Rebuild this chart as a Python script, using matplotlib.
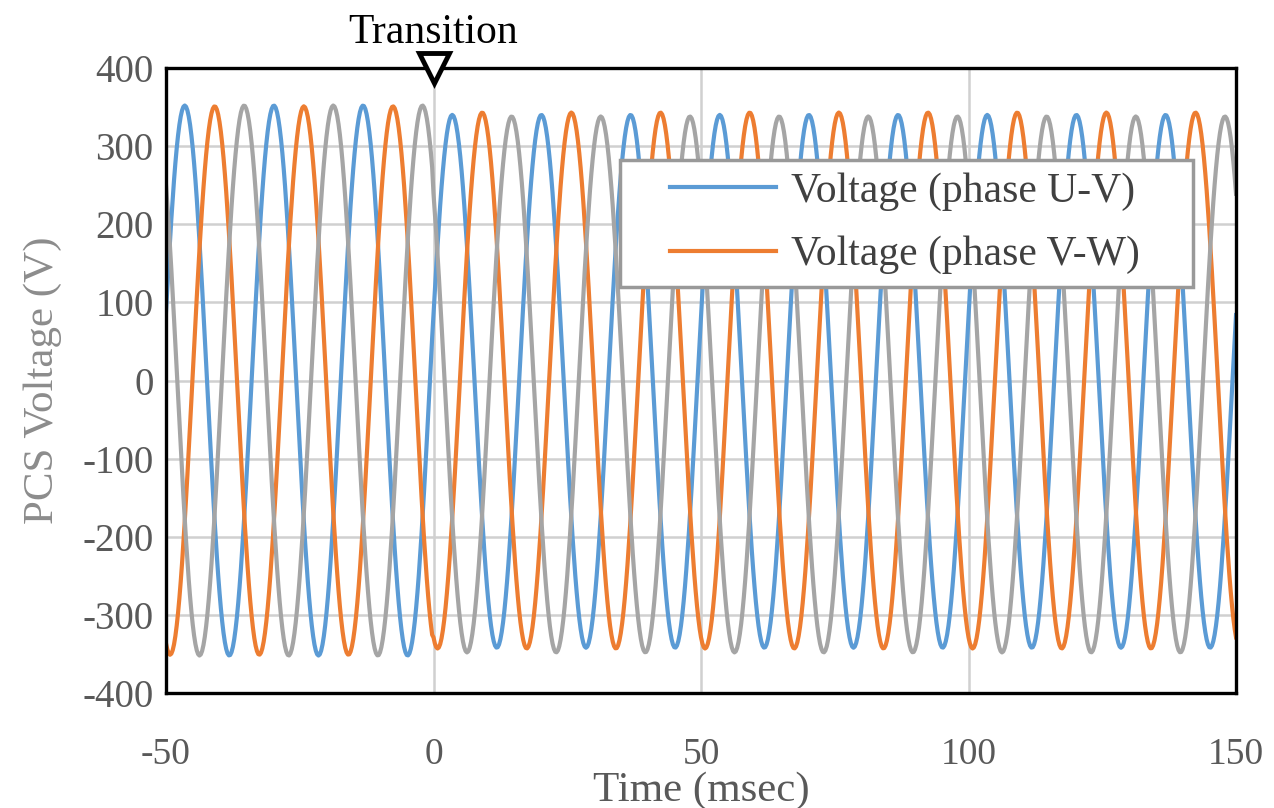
"""
PCS line-to-line voltage around the transition (three phases, 60 Hz).
"""

import numpy as np
import matplotlib.pyplot as plt
from matplotlib.legend_handler import HandlerLine2D

LABEL_FONT_SIZE = 31
TICK_FONT_SIZE = 27
LEGEND_FONT_SIZE = 30

plt.rcParams['font.family'] = ['Liberation Serif', 'DejaVu Serif']
plt.rcParams['axes.unicode_minus'] = False

# Trace settings
time_range_ms = [-50, 150]
line_freq_hz = 60
sample_ms = 0.25
transition_ms = 0

phase_labels = ['Voltage (phase U-V)', 'Voltage (phase V-W)', '_nolegend_']
phase_colors = ['#5B9BD5', '#ED7D31', '#A5A5A5']
# time of the first positive peak of each phase (msec)
first_peak_ms = [-46.5, -40.9, -35.4]
# peak voltage before / after the transition (V)
amp_before = [352, 351, 352]
amp_after = [341, 343, 343]
offset_after = [-1, 0, -5]

x_ticks = [-50, 0, 50, 100, 150]
y_ticks = [-400, -300, -200, -100, 0, 100, 200, 300, 400]


def phase_trace(t, peak, a_before, a_after, off_after):
    period = 1000.0 / line_freq_hz
    wave = np.cos(2 * np.pi * (t - peak) / period)
    return np.where(t < transition_ms, a_before * wave, a_after * wave + off_after)


def main():
    fig = plt.figure(figsize=(12.74, 8.08), dpi=100)
    ax = fig.add_axes([0.1303, 0.1423, 0.8399, 0.7735])

    t = np.arange(time_range_ms[0], time_range_ms[1] + sample_ms, sample_ms)
    for label, color, peak, a0, a1, off in zip(phase_labels, phase_colors, first_peak_ms,
                                                amp_before, amp_after, offset_after):
        ax.plot(t, phase_trace(t, peak, a0, a1, off), color=color, linewidth=3.0,
                label=label, zorder=3)

    ax.set_xlim(time_range_ms)
    ax.set_ylim(y_ticks[0], y_ticks[-1])
    ax.set_xticks(x_ticks)
    ax.set_yticks(y_ticks)

    # Grid lines like the spreadsheet chart
    ax.grid(True, color='#D0D0D0', linewidth=1.8, zorder=0)
    ax.set_axisbelow(True)

    for spine in ax.spines.values():
        spine.set_color('black')
        spine.set_linewidth(2.4)
        spine.set_zorder(6)

    ax.tick_params(axis='both', length=0, colors='#595959')
    ax.tick_params(axis='x', labelsize=TICK_FONT_SIZE, pad=32)
    ax.tick_params(axis='y', labelsize=TICK_FONT_SIZE + 1, pad=9)

    ax.set_xlabel('Time (msec)', fontsize=LABEL_FONT_SIZE, color='#595959', labelpad=0)
    ax.set_ylabel('PCS Voltage (V)', fontsize=LABEL_FONT_SIZE, color='#8C8C8C')
    ax.yaxis.set_label_coords(-0.097, 0.5)

    # Transition marker on top of the frame
    ax.plot([transition_ms], [y_ticks[-1]], marker='v', markersize=21, markerfacecolor='white',
            markeredgecolor='black', markeredgewidth=3.5, clip_on=False, zorder=8)
    ax.annotate('Transition', xy=(transition_ms, y_ticks[-1]), xytext=(0, 18),
                textcoords='offset points', ha='center', va='baseline',
                fontsize=LABEL_FONT_SIZE - 1, color='black', annotation_clip=False)

    # Legend box stretched to the spreadsheet's size, handles shifted right
    leg = ax.legend(loc='upper left', bbox_to_anchor=(0.424, 0.653, 0.536, 0.2),
                    mode='expand', borderaxespad=0,
                    fontsize=LEGEND_FONT_SIZE, fancybox=False, framealpha=1,
                    handlelength=3.45, handletextpad=0.36, labelspacing=0.6,
                    borderpad=0.3, labelcolor='#404040',
                    handler_map={plt.Line2D: HandlerLine2D(xpad=0.9)})
    leg.get_frame().set_edgecolor('#999999')
    leg.get_frame().set_linewidth(2.5)
    leg.set_zorder(7)

    fig.savefig('out.png', dpi=100)
    plt.close(fig)


if __name__ == '__main__':
    main()
